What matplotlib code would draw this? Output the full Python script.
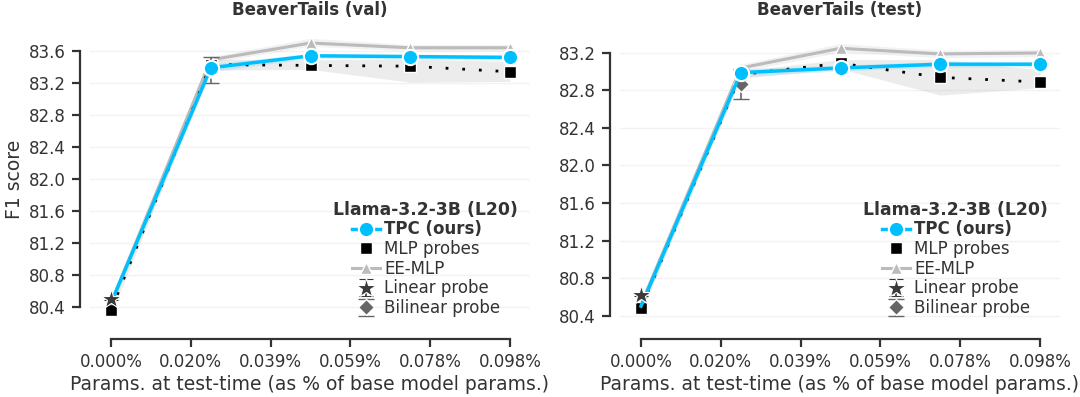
import matplotlib
matplotlib.use("Agg")
import matplotlib.pyplot as plt
from matplotlib.lines import Line2D

# ---------------- data ----------------
x_pos = [0.0, 0.0245, 0.049, 0.0735, 0.098]
xtick_vals = [0.0, 0.0196, 0.0392, 0.0588, 0.0784, 0.098]
xtick_labels = ["0.000%", "0.020%", "0.039%", "0.059%", "0.078%", "0.098%"]

titles = ["BeaverTails (val)", "BeaverTails (test)"]

yticks_val = [80.4, 80.8, 81.2, 81.6, 82.0, 82.4, 82.8, 83.2, 83.6]
yticks_test = [80.4, 80.8, 81.2, 81.6, 82.0, 82.4, 82.8, 83.2]

tpc_val = [80.45, 83.39, 83.54, 83.53, 83.52]
tpc_val_lo = [80.40, 83.34, 83.51, 83.50, 83.49]
tpc_val_hi = [80.50, 83.44, 83.57, 83.56, 83.55]
ee_val = [80.45, 83.49, 83.70, 83.64, 83.64]
ee_val_lo = [80.40, 83.45, 83.66, 83.60, 83.60]
ee_val_hi = [80.50, 83.53, 83.76, 83.68, 83.68]
mlp_val = [80.36, 83.43, 83.42, 83.41, 83.34]
mlp_val_lo = [80.31, 83.36, 83.37, 83.21, 83.22]
mlp_val_hi = [80.41, 83.50, 83.49, 83.50, 83.47]
lin_val = [80.50]
lin_val_err = [0.01]
bil_val = [83.36]
bil_val_err = [0.16]

tpc_test = [80.50, 82.99, 83.04, 83.08, 83.08]
tpc_test_lo = [80.45, 82.95, 83.01, 83.05, 83.05]
tpc_test_hi = [80.55, 83.03, 83.07, 83.11, 83.11]
ee_test = [80.52, 83.04, 83.25, 83.19, 83.20]
ee_test_lo = [80.47, 83.00, 83.21, 83.15, 83.16]
ee_test_hi = [80.57, 83.08, 83.30, 83.23, 83.24]
mlp_test = [80.48, 82.97, 83.09, 82.94, 82.89]
mlp_test_lo = [80.43, 82.93, 83.03, 82.75, 82.83]
mlp_test_hi = [80.53, 83.01, 83.13, 83.13, 83.02]
lin_test = [80.62]
lin_test_err = [0.01]
bil_test = [82.87]
bil_test_err = [0.16]

# ---------------- style ----------------
TXT = "#333333"
plt.rcParams.update({
    "font.family": ["DejaVu Sans"],
    "font.size": 12,
    "text.color": TXT,
    "axes.labelcolor": TXT,
    "xtick.color": TXT,
    "ytick.color": TXT,
    "axes.edgecolor": TXT,
})

BLUE = "#00BFFF"
EEGRAY = "#BBBBBB"

fig = plt.figure(figsize=(10.8, 3.97), dpi=100)
W, H = 1080.0, 397.0
ax1 = fig.add_axes([90 / W, (H - 319) / H, 440 / W, 280 / H])
ax2 = fig.add_axes([620 / W, (H - 319) / H, 440 / W, 280 / H])

panels = [
    (ax1, titles[0], yticks_val, (80.25, 83.75),
     tpc_val, tpc_val_lo, tpc_val_hi, ee_val, ee_val_lo, ee_val_hi,
     mlp_val, mlp_val_lo, mlp_val_hi, lin_val, lin_val_err, bil_val, bil_val_err),
    (ax2, titles[1], yticks_test, (80.363, 83.349),
     tpc_test, tpc_test_lo, tpc_test_hi, ee_test, ee_test_lo, ee_test_hi,
     mlp_test, mlp_test_lo, mlp_test_hi, lin_test, lin_test_err, bil_test, bil_test_err),
]

for (ax, title, yt, ylim, tpc, tpc_lo, tpc_hi, ee, ee_lo, ee_hi,
     mlp, mlp_lo, mlp_hi, lin, lin_err, bil, bil_err) in panels:
    for y in yt:
        ax.axhline(y, color="#f2f2f2", lw=1.0, zorder=0)

    ax.fill_between(x_pos, mlp_lo, mlp_hi, color="#aaaaaa", alpha=0.22, lw=0, zorder=1)
    ax.fill_between(x_pos, ee_lo, ee_hi, color=EEGRAY, alpha=0.18, lw=0, zorder=1)
    ax.fill_between(x_pos, tpc_lo, tpc_hi, color=BLUE, alpha=0.15, lw=0, zorder=1)

    ax.plot(x_pos, ee, color=EEGRAY, lw=2.2, marker="^", ms=9,
            markevery=[1, 2, 3, 4], mec="white", mew=1.0, zorder=2)
    ax.plot(x_pos, mlp, color="black", lw=2.0, linestyle=(0, (1, 5)),
            marker="s", ms=8.5, mec="white", mew=1.0, zorder=3)
    ax.errorbar([x_pos[1]], bil, yerr=bil_err, fmt="D", color="#666666",
                ms=8, mec="white", mew=1.0, capsize=6, elinewidth=1.2,
                capthick=1.2, zorder=3)
    ax.plot(x_pos, tpc, color=BLUE, lw=2.5, marker="o", ms=11,
            markevery=[1, 2, 3, 4], mec="white", mew=1.5, zorder=4)
    ax.errorbar([x_pos[0]], lin, yerr=lin_err, fmt="*", color="#3a3a3a",
                ms=15, mec="white", mew=0.8, capsize=5, elinewidth=1.2,
                capthick=1.2, zorder=5)

    ax.set_xlim(-0.00516, 0.1029)
    ax.set_ylim(*ylim)
    ax.set_xticks(xtick_vals)
    ax.set_xticklabels(xtick_labels)
    ax.set_yticks(yt)
    ax.set_yticklabels([f"{v:.1f}" for v in yt])
    ax.tick_params(axis="both", direction="out", length=6, width=1.6, labelsize=12, pad=4)

    for s in ["top", "right"]:
        ax.spines[s].set_visible(False)
    ax.spines["left"].set_position(("outward", 7.2))
    ax.spines["bottom"].set_position(("outward", 14.4))
    ax.spines["left"].set_linewidth(1.6)
    ax.spines["bottom"].set_linewidth(1.6)
    ax.spines["left"].set_bounds(yt[0], yt[-1])
    ax.spines["bottom"].set_bounds(xtick_vals[0], xtick_vals[-1])

    ax.set_title(title, fontsize=12, fontweight="bold", pad=17.5, color=TXT)
    ax.set_xlabel("Params. at test-time (as % of base model params.)", fontsize=13.5, labelpad=3)

    h_tpc = Line2D([], [], color=BLUE, lw=2.5, marker="o", ms=11, mec="white", mew=1.5)
    h_mlp = Line2D([], [], color="black", lw=0, marker="s", ms=8.5, mec="white", mew=1.0)
    h_ee = Line2D([], [], color=EEGRAY, lw=2.2, marker="^", ms=9, mec="white", mew=1.0)
    cont = ax.containers
    h_lin = cont[-1]
    h_bil = cont[0]
    leg = ax.legend([h_tpc, h_mlp, h_ee, h_lin, h_bil],
                    ["TPC (ours)", "MLP probes", "EE-MLP", "Linear probe", "Bilinear probe"],
                    loc="lower right", bbox_to_anchor=(1.0, -0.035), frameon=False,
                    fontsize=12, title="Llama-3.2-3B (L20)",
                    title_fontproperties={"weight": "bold", "size": 12.4},
                    labelspacing=0.1, handlelength=1.7, handletextpad=0.25,
                    borderaxespad=0.3)
    leg.get_texts()[0].set_fontweight("bold")
    for t in leg.get_texts():
        t.set_color(TXT)
    leg.get_title().set_color(TXT)

ax1.set_ylabel("F1 score", fontsize=13.5, labelpad=4)

fig.savefig("out.png", dpi=100)
